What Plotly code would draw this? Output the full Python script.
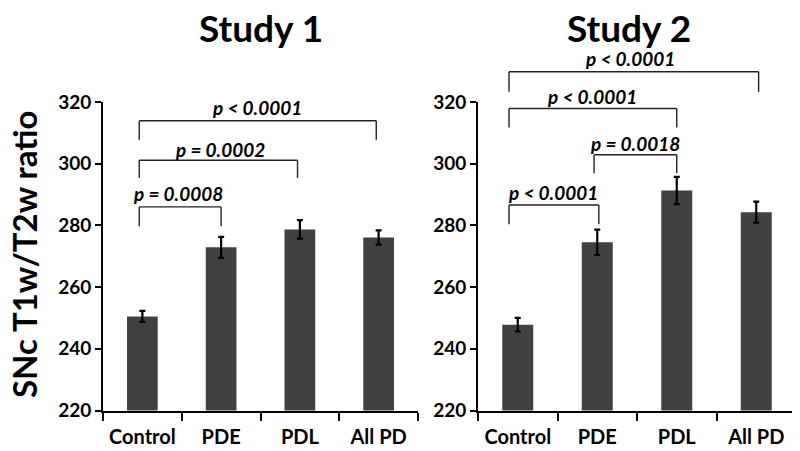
import plotly.graph_objects as go

categories = ["Control", "PDE", "PDL", "All PD"]
study1_means = [250.5, 272.9, 278.7, 276.1]
study1_err = [1.8, 3.4, 3.0, 2.3]
study2_means = [247.8, 274.5, 291.3, 284.3]
study2_err = [2.2, 4.1, 4.4, 3.4]
y_ticks = [220, 240, 260, 280, 300, 320]
titles = ["Study 1", "Study 2"]
y_title = "SNc T1w/T2w ratio"

# brackets: (left category pos, right category pos, top value, drop value, label, label x pos, label value)
study1_brackets = [
    (-0.04, 1.0, 286.0, 279.7, "p = 0.0008", 0.45, 290.4),
    (-0.04, 1.97, 301.1, 295.4, "p = 0.0002", 0.98, 304.6),
    (-0.04, 2.97, 313.9, 307.8, "p < 0.0001", 1.45, 318.1),
]
study2_brackets = [
    (-0.11, 1.02, 286.6, 280.4, "p < 0.0001", 0.44, 290.8),
    (0.96, 2.0, 302.9, 296.9, "p = 0.0018", 1.47, 306.6),
    (-0.11, 2.0, 317.9, 311.7, "p < 0.0001", 0.93, 321.7),
    (-0.11, 3.03, 329.8, 323.3, "p < 0.0001", 1.41, 334.2),
]

YMIN, YMAX = 220, 320
FONT = "Lato"
BAR = "#414141"

# page has an 8px body margin; the figure is sized to end at the window edge
OFF = 8
W, H = 800 - OFF, 451 - OFF

def pxx(x):
    return (x - OFF) / W

def pxy(y):
    return 1 - (y - OFF) / H

fig = go.Figure()
for k, (means, errs) in enumerate([(study1_means, study1_err), (study2_means, study2_err)]):
    sfx = "" if k == 0 else "2"
    fig.add_trace(go.Bar(
        x=categories, y=means,
        error_y=dict(type="data", array=errs, color="black", thickness=2.2, width=3),
        marker=dict(color=BAR, line=dict(width=0)),
        width=0.39, xaxis="x" + sfx, yaxis="y" + sfx, showlegend=False,
    ))

ydom = [pxy(410.5), pxy(102)]
axis_common = dict(showline=True, linecolor="black", linewidth=2, mirror=False,
                   showgrid=False, zeroline=False, automargin=False)
xcommon = dict(axis_common, type="category", range=[-0.5, 3.5], ticks="outside", ticklen=8,
               tickwidth=1.5, tickcolor="black", tickson="boundaries", ticklabelstandoff=7,
               tickfont=dict(family=FONT, size=20, color="black", weight="bold"))
ycommon = dict(axis_common, range=[YMIN, YMAX], tickvals=y_ticks, ticks="outside", ticklen=6,
               tickwidth=1.5, tickcolor="black",
               tickfont=dict(family=FONT, size=19, color="black", weight="bold"))

fig.update_layout(
    template="none",
    width=W, height=H,
    margin=dict(l=0, r=0, t=0, b=0, pad=0),
    paper_bgcolor="white", plot_bgcolor="white",
    xaxis=dict(xcommon, domain=[pxx(103), pxx(418)], anchor="y"),
    yaxis=dict(ycommon, domain=ydom, anchor="x"),
    xaxis2=dict(xcommon, domain=[pxx(478), pxx(796)], anchor="y2"),
    yaxis2=dict(ycommon, domain=ydom, anchor="x2"),
)

annotations = []
shapes = []

def fx(c):
    return (c + 0.5) / 4.0

def fy(v):
    return (v - YMIN) / (YMAX - YMIN)

for k, brackets in enumerate([study1_brackets, study2_brackets]):
    sfx = "" if k == 0 else "2"
    xr, yr = "x" + sfx + " domain", "y" + sfx + " domain"
    for (cl, cr, top, drop, label, lx, ly) in brackets:
        line = dict(color="#222222", width=1.4)
        shapes.append(dict(type="line", xref=xr, yref=yr, x0=fx(cl), x1=fx(cl), y0=fy(drop), y1=fy(top), line=line))
        shapes.append(dict(type="line", xref=xr, yref=yr, x0=fx(cl), x1=fx(cr), y0=fy(top), y1=fy(top), line=line))
        shapes.append(dict(type="line", xref=xr, yref=yr, x0=fx(cr), x1=fx(cr), y0=fy(drop), y1=fy(top), line=line))
        annotations.append(dict(text=label, xref=xr, yref=yr, x=fx(lx), y=fy(ly), showarrow=False,
                                xanchor="center", yanchor="middle",
                                font=dict(family=FONT, size=19, color="black", weight="bold", style="italic")))

# titles
for i, cx in enumerate([261, 629]):
    annotations.append(dict(text=titles[i], xref="paper", yref="paper", x=pxx(cx), y=pxy(28),
                            showarrow=False, xanchor="center", yanchor="middle",
                            font=dict(family=FONT, size=37, color="black", weight="bold")))
annotations.append(dict(text=y_title, xref="paper", yref="paper", x=pxx(24), y=pxy(255),
                        showarrow=False, xanchor="center", yanchor="middle", textangle=-90,
                        font=dict(family=FONT, size=33, color="black", weight="bold")))

fig.update_layout(annotations=annotations, shapes=shapes)
fig.write_html("out.html")
